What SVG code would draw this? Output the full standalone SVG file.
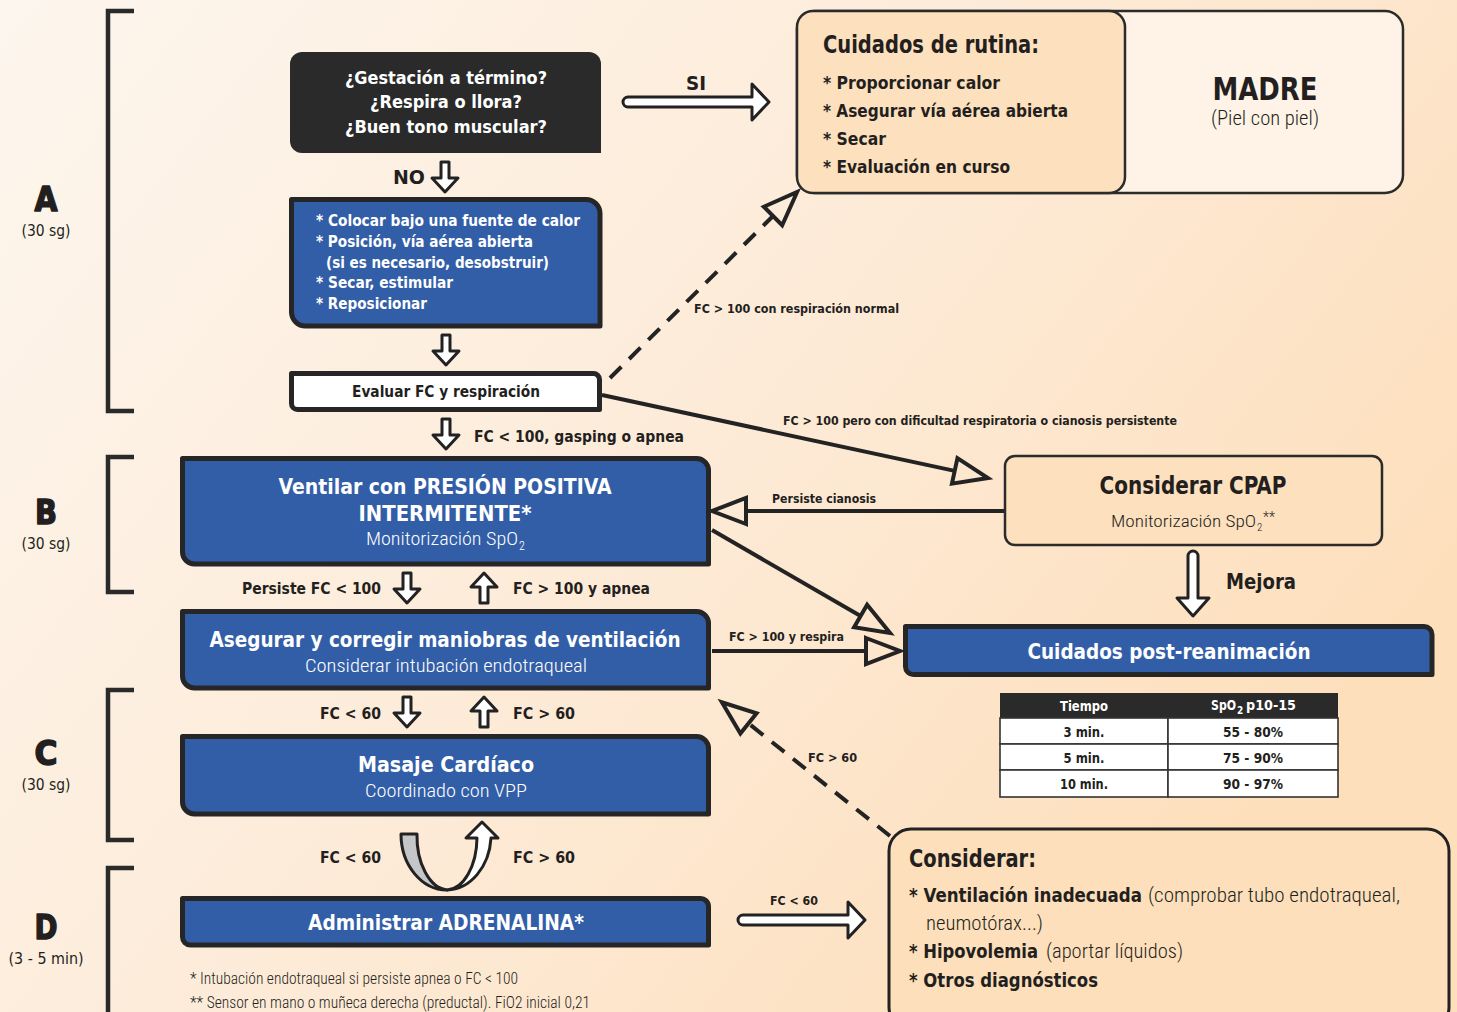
<svg xmlns="http://www.w3.org/2000/svg" width="1457" height="1012" viewBox="0 0 1457 1012">
  <style>
    .tb { font-family: "Liberation Sans Narrow", "DejaVu Sans Condensed", "Roboto Condensed", "Roboto", sans-serif; font-weight: 700; }
    .tl { font-family: "Liberation Sans Narrow", "Roboto Condensed", "Roboto", sans-serif; font-weight: 300; }
    .lt { font-family: "DejaVu Sans", "Lato", sans-serif; }
    .big { font-size: 34px; font-weight: 900; stroke: #231f20; stroke-width: 1.6; stroke-linejoin: round; }
    .w { fill: #ffffff; }
    .k { fill: #231f20; }
    .mid { text-anchor: middle; }
    .blue { fill: #325ea7; stroke: #262626; stroke-width: 5; stroke-linejoin: round; }
    .peach { fill: #fde0bd; stroke: #2b2b2b; stroke-width: 2.5; }
    .bracket { fill: none; stroke: #2a2a2a; stroke-width: 4.5; }
    .conn { fill: none; stroke: #232323; stroke-width: 4; marker-end: url(#hollow); }
    .dash { stroke-dasharray: 16 11; }
    .block { fill: #ffffff; stroke: #222222; stroke-width: 3; stroke-linejoin: round; }
    .cell { fill: #ffffff; stroke: #333333; stroke-width: 1.6; }
  </style>
  <defs>
    <linearGradient id="bg" x1="0" y1="0" x2="1" y2="0.55">
      <stop offset="0" stop-color="#fdf6ee"/>
      <stop offset="0.55" stop-color="#fdebd8"/>
      <stop offset="1" stop-color="#fddfbc"/>
    </linearGradient>
    <marker id="hollow" markerUnits="userSpaceOnUse" viewBox="-3 -17 42 34" markerWidth="42" markerHeight="34" refX="0" refY="0" orient="auto" overflow="visible">
      <path d="M0,-13 L34,0 L0,13 Z" fill="none" stroke="#232323" stroke-width="4"/>
    </marker>
    <path id="downArrow" class="block" d="M-4,-15 V1 H-13 L0,15 L13,1 H4 V-15 Z"/>
  </defs>

  <!-- background -->
  <rect x="0" y="0" width="1457" height="1012" fill="url(#bg)"/>

  <!-- phase brackets and labels -->
  <g id="phases">
    <path class="bracket" d="M134,11 H108 V411 H134"/>
    <path class="bracket" d="M134,457 H108 V592 H134"/>
    <path class="bracket" d="M134,690 H108 V840 H134"/>
    <path class="bracket" d="M134,868 H108 V1014"/>
    <text class="lt k mid big" x="46" y="211" textLength="23" lengthAdjust="spacingAndGlyphs">A</text>
    <text class="lt k mid" x="46" y="236" font-size="15" textLength="49" lengthAdjust="spacingAndGlyphs">(30 sg)</text>
    <text class="lt k mid big" x="46" y="524" textLength="22" lengthAdjust="spacingAndGlyphs">B</text>
    <text class="lt k mid" x="46" y="549" font-size="15" textLength="49" lengthAdjust="spacingAndGlyphs">(30 sg)</text>
    <text class="lt k mid big" x="46" y="765" textLength="23" lengthAdjust="spacingAndGlyphs">C</text>
    <text class="lt k mid" x="46" y="790" font-size="15" textLength="49" lengthAdjust="spacingAndGlyphs">(30 sg)</text>
    <text class="lt k mid big" x="46" y="939" textLength="23" lengthAdjust="spacingAndGlyphs">D</text>
    <text class="lt k mid" x="46" y="964" font-size="15" textLength="75" lengthAdjust="spacingAndGlyphs">(3 - 5 min)</text>
  </g>

  <!-- connectors -->
  <g id="connectors">
    <path class="conn dash" d="M610,378 L773,216"/>
    <path class="conn" d="M602,395 L954.7,470.9"/>
    <path class="conn" d="M1005,511 L746,511"/>
    <path class="conn" d="M712,530 L860.6,616"/>
    <path class="conn" d="M712,651 L866,651"/>
    <path class="conn dash" d="M890,836 L748.5,723.4"/>

    <!-- block arrows -->
    <use href="#downArrow" transform="translate(445,177)"/>
    <use href="#downArrow" transform="translate(446,350)"/>
    <use href="#downArrow" transform="translate(446,434)"/>
    <use href="#downArrow" transform="translate(407,588)"/>
    <use href="#downArrow" transform="translate(484,588) rotate(180)"/>
    <use href="#downArrow" transform="translate(407,712)"/>
    <use href="#downArrow" transform="translate(484,712) rotate(180)"/>
    <path class="block" d="M628,97 H752 V84 L769,102 L752,120 V107 H628 A5,5 0 0 1 628,97 Z"/>
    <path class="block" d="M743,915 H848 V902 L865,920 L848,938 V925 H743 A5,5 0 0 1 743,915 Z"/>
    <path class="block" d="M1188,556 A5,5 0 0 1 1198,556 V598 H1209 L1193,616 L1177,598 H1188 Z"/>

    <!-- loop between cardiac massage and adrenaline -->
    <path d="M401,834 A46,56 0 0 0 447,890 A32,54 0 0 1 417,834 Z" fill="#c4c6c8" stroke="#222" stroke-width="3" stroke-linejoin="round"/>
    <path d="M447,890 A45,56 0 0 0 491,838 L498,838 L482,822 L466,838 L477,838 A31,53 0 0 1 447,890 Z" fill="#ffffff" stroke="#222" stroke-width="3" stroke-linejoin="round"/>

    <!-- connector labels -->
    <text class="tb k" x="393" y="184" font-size="20" textLength="32" lengthAdjust="spacingAndGlyphs">NO</text>
    <text class="tb k" x="686" y="90" font-size="20" textLength="20" lengthAdjust="spacingAndGlyphs">SI</text>
    <text class="tb k" x="474" y="442" font-size="16" textLength="210" lengthAdjust="spacingAndGlyphs">FC &lt; 100, gasping o apnea</text>
    <text class="tb k" x="242" y="594" font-size="16" textLength="139" lengthAdjust="spacingAndGlyphs">Persiste FC &lt; 100</text>
    <text class="tb k" x="513" y="594" font-size="16" textLength="137" lengthAdjust="spacingAndGlyphs">FC &gt; 100 y apnea</text>
    <text class="tb k" x="320" y="719" font-size="16" textLength="61" lengthAdjust="spacingAndGlyphs">FC &lt; 60</text>
    <text class="tb k" x="513" y="719" font-size="16" textLength="62" lengthAdjust="spacingAndGlyphs">FC &gt; 60</text>
    <text class="tb k" x="320" y="863" font-size="16" textLength="61" lengthAdjust="spacingAndGlyphs">FC &lt; 60</text>
    <text class="tb k" x="513" y="863" font-size="16" textLength="62" lengthAdjust="spacingAndGlyphs">FC &gt; 60</text>
    <text class="tb k" x="694" y="313" font-size="13" textLength="205" lengthAdjust="spacingAndGlyphs">FC &gt; 100 con respiración normal</text>
    <text class="tb k" x="783" y="425" font-size="13" textLength="394" lengthAdjust="spacingAndGlyphs">FC &gt; 100 pero con dificultad respiratoria o cianosis persistente</text>
    <text class="tb k" x="772" y="503" font-size="13" textLength="104" lengthAdjust="spacingAndGlyphs">Persiste cianosis</text>
    <text class="tb k" x="729" y="641" font-size="13" textLength="115" lengthAdjust="spacingAndGlyphs">FC &gt; 100 y respira</text>
    <text class="tb k" x="1226" y="589" font-size="22" textLength="70" lengthAdjust="spacingAndGlyphs">Mejora</text>
    <text class="tb k" x="808" y="762" font-size="13" textLength="49" lengthAdjust="spacingAndGlyphs">FC &gt; 60</text>
    <text class="tb k" x="770" y="905" font-size="13" textLength="48" lengthAdjust="spacingAndGlyphs">FC &lt; 60</text>
  </g>

  <!-- initial questions -->
  <g id="node-preguntas">
    <path d="M302,52 H589 A12,12 0 0 1 601,64 V153 H302 A12,12 0 0 1 290,141 V64 A12,12 0 0 1 302,52 Z" fill="#2a2a2a"/>
    <text class="tb w mid" x="446" y="84" font-size="18" textLength="202" lengthAdjust="spacingAndGlyphs">¿Gestación a término?</text>
    <text class="tb w mid" x="446" y="108" font-size="18" textLength="152" lengthAdjust="spacingAndGlyphs">¿Respira o llora?</text>
    <text class="tb w mid" x="446" y="133" font-size="18" textLength="202" lengthAdjust="spacingAndGlyphs">¿Buen tono muscular?</text>
  </g>

  <!-- initial steps -->
  <g id="node-pasos-iniciales">
    <path class="blue" d="M291.5,199.5 H586 A14,14 0 0 1 600,213.5 V326 H306 A14,14 0 0 1 291.5,312 Z"/>
    <text class="tb w" x="316" y="226" font-size="16" textLength="264" lengthAdjust="spacingAndGlyphs">* Colocar bajo una fuente de calor</text>
    <text class="tb w" x="316" y="247" font-size="16" textLength="217" lengthAdjust="spacingAndGlyphs">* Posición, vía aérea abierta</text>
    <text class="tb w" x="326" y="268" font-size="16" textLength="223" lengthAdjust="spacingAndGlyphs">(si es necesario, desobstruir)</text>
    <text class="tb w" x="316" y="288" font-size="16" textLength="137" lengthAdjust="spacingAndGlyphs">* Secar, estimular</text>
    <text class="tb w" x="316" y="309" font-size="16" textLength="111" lengthAdjust="spacingAndGlyphs">* Reposicionar</text>
  </g>

  <!-- heart rate and breathing check -->
  <g id="node-evaluar">
    <path d="M291.5,373.5 H593 A6,6 0 0 1 599.5,379.5 V409.5 H297.5 A6,6 0 0 1 291.5,403.5 Z" fill="#ffffff" stroke="#262626" stroke-width="5" stroke-linejoin="round"/>
    <text class="tb k mid" x="446" y="397" font-size="16" textLength="188" lengthAdjust="spacingAndGlyphs">Evaluar FC y respiración</text>
  </g>

  <!-- positive pressure ventilation -->
  <g id="node-ventilar">
    <path class="blue" d="M182.5,458.5 H696 A12,12 0 0 1 708.5,471 V564 H195 A12,12 0 0 1 182.5,552 Z"/>
    <text class="tb w mid" x="445" y="494" font-size="22" textLength="333" lengthAdjust="spacingAndGlyphs">Ventilar con PRESIÓN POSITIVA</text>
    <text class="tb w mid" x="445" y="521" font-size="22" textLength="173" lengthAdjust="spacingAndGlyphs">INTERMITENTE*</text>
    <text class="tl w" x="366" y="545" font-size="18" textLength="152" lengthAdjust="spacingAndGlyphs">Monitorización SpO</text>
    <text class="tl w" x="519" y="550" font-size="12">2</text>
  </g>

  <!-- ventilation correction -->
  <g id="node-asegurar">
    <path class="blue" d="M182.5,611.5 H696 A12,12 0 0 1 708.5,624 V688 H195 A12,12 0 0 1 182.5,676 Z"/>
    <text class="tb w mid" x="445" y="647" font-size="22" textLength="471" lengthAdjust="spacingAndGlyphs">Asegurar y corregir maniobras de ventilación</text>
    <text class="tl w mid" x="446" y="672" font-size="18" textLength="282" lengthAdjust="spacingAndGlyphs">Considerar intubación endotraqueal</text>
  </g>

  <!-- chest compressions -->
  <g id="node-masaje">
    <path class="blue" d="M182.5,736.5 H696 A12,12 0 0 1 708.5,749 V814 H195 A12,12 0 0 1 182.5,802 Z"/>
    <text class="tb w mid" x="446" y="772" font-size="22" textLength="176" lengthAdjust="spacingAndGlyphs">Masaje Cardíaco</text>
    <text class="tl w mid" x="446" y="797" font-size="18" textLength="162" lengthAdjust="spacingAndGlyphs">Coordinado con VPP</text>
  </g>

  <!-- adrenaline -->
  <g id="node-adrenalina">
    <path class="blue" d="M182.5,898.5 H700 A8,8 0 0 1 708.5,906.5 V945 H190.5 A8,8 0 0 1 182.5,937 Z"/>
    <text class="tb w mid" x="446" y="930" font-size="22" textLength="276" lengthAdjust="spacingAndGlyphs">Administrar ADRENALINA*</text>
  </g>

  <!-- footnotes -->
  <g id="notas">
    <text class="tl k" x="190" y="984" font-size="16" textLength="328" lengthAdjust="spacingAndGlyphs">* Intubación endotraqueal si persiste apnea o FC &lt; 100</text>
    <text class="tl k" x="190" y="1008" font-size="16" textLength="400" lengthAdjust="spacingAndGlyphs">** Sensor en mano o muñeca derecha (preductal). FiO2 inicial 0,21</text>
  </g>

  <!-- routine care with mother -->
  <g id="node-madre">
    <rect x="797" y="11" width="606" height="182" rx="18" fill="#fef3e6" stroke="#2b2b2b" stroke-width="2.5"/>
    <text class="tb k mid" x="1265" y="100" font-size="32" textLength="105" lengthAdjust="spacingAndGlyphs">MADRE</text>
    <text class="tl k mid" x="1265" y="125" font-size="20" textLength="108" lengthAdjust="spacingAndGlyphs">(Piel con piel)</text>
  </g>
  <g id="node-rutina">
    <rect class="peach" x="797" y="11" width="328" height="182" rx="16"/>
    <text class="tb k" x="823" y="53" font-size="24" textLength="216" lengthAdjust="spacingAndGlyphs">Cuidados de rutina:</text>
    <text class="tb k" x="823" y="89" font-size="18" textLength="177" lengthAdjust="spacingAndGlyphs">* Proporcionar calor</text>
    <text class="tb k" x="823" y="117" font-size="18" textLength="245" lengthAdjust="spacingAndGlyphs">* Asegurar vía aérea abierta</text>
    <text class="tb k" x="823" y="145" font-size="18" textLength="63" lengthAdjust="spacingAndGlyphs">* Secar</text>
    <text class="tb k" x="823" y="173" font-size="18" textLength="187" lengthAdjust="spacingAndGlyphs">* Evaluación en curso</text>
  </g>

  <!-- CPAP -->
  <g id="node-cpap">
    <rect class="peach" x="1005" y="456" width="377" height="89" rx="10" fill="#fde3c4"/>
    <text class="tb k mid" x="1193" y="494" font-size="24" textLength="187" lengthAdjust="spacingAndGlyphs">Considerar CPAP</text>
    <text class="tl k" x="1111" y="527" font-size="17" textLength="145" lengthAdjust="spacingAndGlyphs">Monitorización SpO</text>
    <text class="tl k" x="1257" y="531" font-size="11">2</text>
    <text class="tl k" x="1263" y="522" font-size="14">**</text>
  </g>

  <!-- post-resuscitation care -->
  <g id="node-post">
    <path class="blue" d="M905.5,626.5 H1424 A8,8 0 0 1 1432,634.5 V674.5 H913.5 A8,8 0 0 1 905.5,666.5 Z"/>
    <text class="tb w mid" x="1169" y="659" font-size="22" textLength="283" lengthAdjust="spacingAndGlyphs">Cuidados post-reanimación</text>
  </g>

  <!-- target saturation table -->
  <g id="tabla-spo2">
    <rect x="1000" y="693" width="338" height="25" fill="#2a2a2a"/>
    <rect class="cell" x="1000" y="718" width="168" height="26"/>
    <rect class="cell" x="1168" y="718" width="170" height="26"/>
    <rect class="cell" x="1000" y="744" width="168" height="26"/>
    <rect class="cell" x="1168" y="744" width="170" height="26"/>
    <rect class="cell" x="1000" y="770" width="168" height="27"/>
    <rect class="cell" x="1168" y="770" width="170" height="27"/>
    <text class="tb w mid" x="1084" y="711" font-size="14" textLength="48" lengthAdjust="spacingAndGlyphs">Tiempo</text>
    <text class="tb w" x="1211" y="710" font-size="14" textLength="25" lengthAdjust="spacingAndGlyphs">SpO</text>
    <text class="tb w" x="1237" y="714" font-size="10">2</text>
    <text class="tb w" x="1246" y="710" font-size="14" textLength="50" lengthAdjust="spacingAndGlyphs">p10-15</text>
    <text class="tb k mid" x="1084" y="737" font-size="14" textLength="41" lengthAdjust="spacingAndGlyphs">3 min.</text>
    <text class="tb k mid" x="1253" y="737" font-size="14" textLength="60" lengthAdjust="spacingAndGlyphs">55 - 80%</text>
    <text class="tb k mid" x="1084" y="763" font-size="14" textLength="41" lengthAdjust="spacingAndGlyphs">5 min.</text>
    <text class="tb k mid" x="1253" y="763" font-size="14" textLength="60" lengthAdjust="spacingAndGlyphs">75 - 90%</text>
    <text class="tb k mid" x="1084" y="789" font-size="14" textLength="48" lengthAdjust="spacingAndGlyphs">10 min.</text>
    <text class="tb k mid" x="1253" y="789" font-size="14" textLength="60" lengthAdjust="spacingAndGlyphs">90 - 97%</text>
  </g>

  <!-- other considerations -->
  <g id="node-considerar">
    <rect x="889" y="829" width="560" height="200" rx="22" fill="#fddfbb" stroke="#222" stroke-width="3"/>
    <text class="tb k" x="909" y="867" font-size="24" textLength="127" lengthAdjust="spacingAndGlyphs">Considerar:</text>
    <text class="tb k" x="909" y="902" font-size="20" textLength="233" lengthAdjust="spacingAndGlyphs">* Ventilación inadecuada</text>
    <text class="tl k" x="1148" y="902" font-size="20" textLength="252" lengthAdjust="spacingAndGlyphs">(comprobar tubo endotraqueal,</text>
    <text class="tl k" x="926" y="930" font-size="20" textLength="117" lengthAdjust="spacingAndGlyphs">neumotórax...)</text>
    <text class="tb k" x="909" y="958" font-size="20" textLength="129" lengthAdjust="spacingAndGlyphs">* Hipovolemia</text>
    <text class="tl k" x="1046" y="958" font-size="20" textLength="137" lengthAdjust="spacingAndGlyphs">(aportar líquidos)</text>
    <text class="tb k" x="909" y="987" font-size="20" textLength="189" lengthAdjust="spacingAndGlyphs">* Otros diagnósticos</text>
  </g>
</svg>
